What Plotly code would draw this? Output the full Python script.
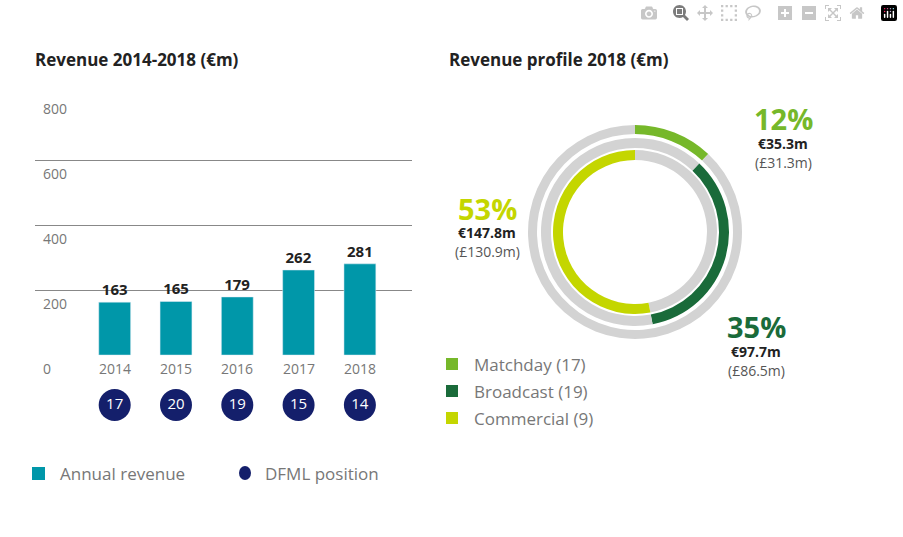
import plotly.graph_objects as go

W, H = 903, 537

years = ["2014", "2015", "2016", "2017", "2018"]
revenue = [163, 165, 179, 262, 281]
positions = [17, 20, 19, 15, 14]
y_ticks = [0, 200, 400, 600, 800]

streams = ["Matchday (17)", "Broadcast (19)", "Commercial (9)"]
shares = [12, 35, 53]
eur = ["€35.3m", "€97.7m", "€147.8m"]
gbp = ["(£31.3m)", "(£86.5m)", "(£130.9m)"]
colors = ["#76b82a", "#1a6b3a", "#c4d600"]

TEAL = "#0097a9"
NAVY = "#141f6b"
RING = "#d3d3d3"
FONT = "Open Sans"


def px(x):
    return x / W


def py(y):
    return 1 - y / H


def label(x, y, text, size, color, xanchor="center"):
    return dict(x=px(x), y=py(y), xref="paper", yref="paper", text=text, showarrow=False,
                xanchor=xanchor, yanchor="middle", font=dict(family=FONT, size=size, color=color))


fig = go.Figure()

# bar chart
fig.add_trace(go.Bar(x=list(range(len(years))), y=revenue, marker_color=TEAL, width=0.52,
                     text=revenue, texttemplate="<b>%{y}</b>", textposition="outside", cliponaxis=False,
                     textfont=dict(family=FONT, size=15, color="#222"), showlegend=False))
fig.add_trace(go.Scatter(x=list(range(len(years))), y=[-154] * len(years), mode="markers+text",
                         marker=dict(size=32, color=NAVY), text=positions, textposition="middle center",
                         textfont=dict(family=FONT, size=15, color="white"),
                         cliponaxis=False, showlegend=False))

fig.update_xaxes(range=[-1.3, 4.85], domain=[px(35), px(412)], showticklabels=False,
                 showgrid=False, zeroline=False, fixedrange=True)
fig.update_yaxes(range=[-200, 801], domain=[py(420), py(95)], tickvals=y_ticks[1:],
                 showticklabels=False, gridcolor="#888", gridwidth=1, zeroline=False)

ann = []
for t in y_ticks:
    ann.append(dict(x=-1.2, y=t, xref="x", yref="y", text=str(t), showarrow=False,
                    xanchor="left", yanchor="middle", yshift=-13,
                    font=dict(family=FONT, size=14, color="#777")))
for i, yr in enumerate(years):
    ann.append(dict(x=i, y=0, xref="x", yref="y", text=yr, showarrow=False,
                    xanchor="center", yanchor="middle", yshift=-13,
                    font=dict(family=FONT, size=14, color="#777")))

# rings: outer -> inner
ring_r = [(98, 107), (84, 94), (72, 82)]
cx, cy = 635, 232
start = 0
for i, (s, (r0, r1)) in enumerate(zip(shares, ring_r)):
    fig.add_trace(go.Pie(values=[start, s, 100 - start - s], sort=False, direction="clockwise",
                         rotation=0, hole=r0 / r1, textinfo="none", hoverinfo="skip",
                         marker=dict(colors=[RING, colors[i], RING], line=dict(width=0)),
                         domain=dict(x=[px(cx - r1), px(cx + r1)], y=[py(cy + r1), py(cy - r1)]),
                         showlegend=False))
    start += s

# share labels
label_pos = [(783, 118), (756, 326), (487, 208)]
for i, (lx, ly) in enumerate(label_pos):
    ann.append(label(lx, ly, f"<b>{shares[i]}%</b>", 29, colors[i]))
    ann.append(label(lx, ly + 25, f"<b>{eur[i]}</b>", 14, "#222"))
    ann.append(label(lx, ly + 44, gbp[i], 14, "#555"))

# titles
ann.append(label(33, 60, "<b>Revenue 2014-2018 (€m)</b>", 17, "#222", "left"))
ann.append(label(447, 60, "<b>Revenue profile 2018 (€m)</b>", 17, "#222", "left"))

shapes = []
# right legend
for i, name in enumerate(streams):
    y = 364 + 27 * i
    shapes.append(dict(type="rect", xref="paper", yref="paper", x0=px(446), x1=px(458),
                       y0=py(y + 6), y1=py(y - 6), fillcolor=colors[i], line_width=0))
    ann.append(label(472, y, name, 17, "#777", "left"))

# left legend
shapes.append(dict(type="rect", xref="paper", yref="paper", x0=px(32), x1=px(45),
                   y0=py(480), y1=py(467), fillcolor=TEAL, line_width=0))
ann.append(label(58, 473, "Annual revenue", 17, "#777", "left"))
shapes.append(dict(type="circle", xref="paper", yref="paper", x0=px(239), x1=px(251),
                   y0=py(480), y1=py(466), fillcolor=NAVY, line_width=0))
ann.append(label(263, 473, "DFML position", 17, "#777", "left"))

fig.update_layout(width=W, height=H, margin=dict(l=0, r=0, t=0, b=0), plot_bgcolor="white",
                  paper_bgcolor="white", annotations=ann, shapes=shapes, showlegend=False,
                  font=dict(family=FONT))

fig.write_html("out.html", post_script="document.body.style.margin='0';")
